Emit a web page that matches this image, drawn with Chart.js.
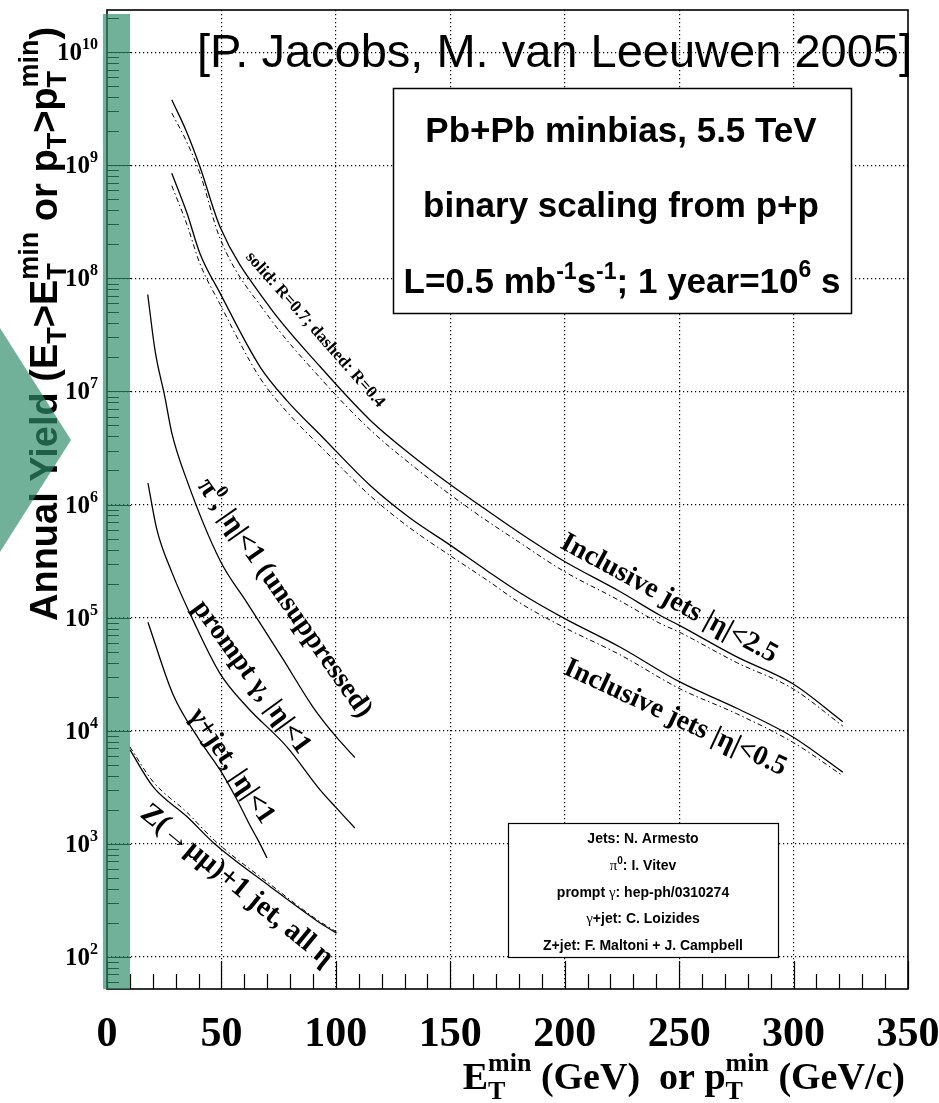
<!DOCTYPE html>
<html>
<head>
<meta charset="utf-8">
<script src="https://cdn.jsdelivr.net/npm/chart.js@4.4.0/dist/chart.umd.min.js"></script>
<style>
  html, body { margin: 0; padding: 0; background: #fff; }
  #wrap { position: relative; width: 939px; height: 1103px; }
</style>
</head>
<body>
<div id="wrap"><canvas id="yieldChart" width="939" height="1103"></canvas></div>
<script>
// annual yields, Pb+Pb minbias 5.5 TeV
const jets25X   = [28.3, 34.9, 40.6, 49.4, 69.9, 93.1, 114.9, 132.4, 149.8, 163, 180.4, 199.2, 224.1, 241.6, 250.3, 275.2, 299.7, 321.5]
const jets25R07 = [3.8e9, 1.95e9, 9.7e8, 2.85e8, 6.0e7, 1.66e7, 5.6e6, 2.8e6, 1.51e6, 9.8e5, 5.6e5, 3.2e5, 1.7e5, 1.05e5, 8.5e4, 4.5e4, 2.6e4, 1.2e4]
const jets25R04 = [2.9e9, 1.6e9, 8.5e8, 2.25e8, 4.8e7, 1.32e7, 4.6e6, 2.3e6, 1.23e6, 7.9e5, 4.6e5, 2.6e5, 1.41e5, 8.9e4, 7.4e4, 4.0e4, 2.35e4, 1.1e4]

const jets05X   = [28.3, 34.9, 40.6, 49.4, 66.8, 78.6, 94.4, 114.9, 132.4, 149.8, 166, 180.4, 199.2, 224.1, 250.3, 275.2, 299.7, 321.5]
const jets05R07 = [8.5e8, 3.8e8, 1.66e8, 7.4e7, 1.66e7, 8.3e6, 3.9e6, 1.48e6, 7.6e5, 4.4e5, 2.6e5, 1.66e5, 1.0e5, 5.5e4, 2.7e4, 1.58e4, 8.8e3, 4.3e3]
const jets05R04 = [6.6e8, 3.0e8, 1.35e8, 5.9e7, 1.32e7, 6.6e6, 3.1e6, 1.2e6, 6.2e5, 3.55e5, 2.15e5, 1.35e5, 8.3e4, 4.7e4, 2.35e4, 1.41e4, 7.9e3, 4.0e3]

const pi0X = [17.8, 21.0, 25.3, 28.3, 34.8, 49.4, 61.2, 76.9, 90.0, 100, 108.3]
const pi0Y = [7.2e7, 2.3e7, 8.9e6, 4.3e6, 1.66e6, 3.2e5, 1.35e5, 4.3e4, 1.62e4, 8.9e3, 5.8e3]

const promptGammaX = [17.9, 21.8, 28.4, 37.6, 49.4, 61.2, 78.6, 93.1, 100, 108.3]
const promptGammaY = [1.55e6, 6.0e5, 2.5e5, 9.5e4, 3.2e4, 1.62e4, 7.2e3, 3.0e3, 2.1e3, 1.38e3]

const gammaJetX = [17.9, 28.8, 40, 49.4, 56.8, 62.5, 66.3, 69.9]
const gammaJetY = [9.1e4, 2.1e4, 8.5e3, 4.5e3, 2.45e3, 1.45e3, 1.05e3, 7.5e2]

const zJetX     = [10, 20.1, 34.9, 47, 71.2, 91.5, 100.3]
const zJetY     = [6.8e3, 3.2e3, 1.74e3, 1.0e3, 4.2e2, 2.1e2, 1.62e2]
const zJetDashY = [7.2e3, 3.55e3, 1.9e3, 1.07e3, 4.4e2, 2.15e2, 1.66e2]

// axes
const xTickLabels = [0, 50, 100, 150, 200, 250, 300, 350]
const xGridValues = [50, 100, 150, 200, 250, 300]
const yDecades = [2, 3, 4, 5, 6, 7, 8, 9, 10]
const X_MIN = 0, X_MAX = 350
const Y_MIN = 52, Y_MAX = 2.36e10


const SANS = '"Liberation Sans", Arial, sans-serif'
const SERIF = '"Liberation Serif", "Times New Roman", serif'

function pts(xs, ys) {
  return xs.map((x, i) => ({x: x, y: ys[i]}))
}

function solid(xs, ys) {
  return {data: pts(xs, ys), borderColor: '#000', borderWidth: 1.3, pointRadius: 0,
    showLine: true, cubicInterpolationMode: 'monotone'}
}
function dashed(xs, ys) {
  return {data: pts(xs, ys), borderColor: '#000', borderWidth: 1, borderDash: [5, 3, 1.5, 3],
    pointRadius: 0, showLine: true, cubicInterpolationMode: 'monotone'}
}

// rich text: segments {t, font, dy} or stacked {lo, hi, font, dyLo, dyHi}
function segWidth(ctx, s) {
  ctx.font = s.font
  if (s.lo !== undefined) {
    return Math.max(ctx.measureText(s.lo).width, ctx.measureText(s.hi).width)
  }
  return ctx.measureText(s.t).width
}
function drawRich(ctx, segs, x, y, align) {
  let w = 0
  segs.forEach(s => { w += segWidth(ctx, s) })
  let cx = align === 'right' ? x - w : (align === 'center' ? x - w / 2 : x)
  ctx.textAlign = 'left'
  ctx.textBaseline = 'alphabetic'
  segs.forEach(s => {
    const sw = segWidth(ctx, s)
    ctx.font = s.font
    if (s.lo !== undefined) {
      ctx.fillText(s.lo, cx, y + s.dyLo)
      ctx.fillText(s.hi, cx, y + s.dyHi)
    } else {
      ctx.fillText(s.t, cx, y + (s.dy || 0))
    }
    cx += sw
  })
  return w
}

function lbl(size) { return 'bold ' + size + 'px ' + SERIF }

const curveLabels = [
  {cx: 316, cy: 329, angle: 48.5, size: 17, segs: s => [{t: 'solid: R=0.7; dashed: R=0.4', font: lbl(s)}]},
  {cx: 670, cy: 597, angle: 28.5, size: 28, segs: s => [{t: 'Inclusive jets |η|<2.5', font: lbl(s)}]},
  {cx: 676, cy: 716, angle: 25, size: 28, segs: s => [{t: 'Inclusive jets |η|<0.5', font: lbl(s)}]},
  {cx: 286, cy: 597, angle: 55, size: 28, segs: s => [
    {t: 'π', font: lbl(s)}, {t: '0', font: lbl(Math.round(s * 0.65)), dy: -s * 0.42},
    {t: ', |η|<1 (unsuppressed)', font: lbl(s)}]},
  {cx: 253, cy: 676, angle: 54, size: 28, segs: s => [{t: 'prompt γ, |η|<1', font: lbl(s)}]},
  {cx: 233, cy: 765, angle: 56, size: 28, segs: s => [{t: 'γ+jet, |η|<1', font: lbl(s)}]},
  {cx: 238, cy: 884, angle: 39.2, size: 29, segs: s => [{t: 'Z(→μμ)+1 jet, all η', font: lbl(s)}]}
]

const rootStyle = {
  id: 'rootStyle',
  afterDraw(chart) {
    const ctx = chart.ctx
    const a = chart.chartArea
    const xs = chart.scales.x
    const ys = chart.scales.y
    ctx.save()
    ctx.fillStyle = '#000'
    ctx.strokeStyle = '#000'

    // frame
    ctx.lineWidth = 1.6
    ctx.strokeRect(a.left, a.top, a.right - a.left, a.bottom - a.top)

    // ticks inside the frame
    ctx.lineWidth = 1.2
    ctx.beginPath()
    for (let v = X_MIN; v <= X_MAX; v += 10) {
      const px = Math.round(xs.getPixelForValue(v)) + 0.5
      const len = v % 50 === 0 ? 28 : 15
      ctx.moveTo(px, a.bottom)
      ctx.lineTo(px, a.bottom - len)
    }
    for (let e = 1; e <= 10; e++) {
      for (let m = 1; m <= 9; m++) {
        const v = m * Math.pow(10, e)
        if (v < Y_MIN || v > Y_MAX) continue
        const py = Math.round(ys.getPixelForValue(v)) + 0.5
        ctx.moveTo(a.left, py)
        ctx.lineTo(a.left + (m === 1 ? 24 : 12), py)
      }
    }
    ctx.stroke()

    // tick labels
    xTickLabels.forEach(v => {
      drawRich(ctx, [{t: String(v), font: 'bold 42px ' + SERIF}], xs.getPixelForValue(v), 1046, 'center')
    })
    yDecades.forEach(e => {
      const py = ys.getPixelForValue(Math.pow(10, e))
      drawRich(ctx, [{t: '10', font: 'bold 25px ' + SERIF},
        {t: String(e), font: 'bold 16px ' + SERIF, dy: -11}], 98, py + 8, 'right')
    })

    // x title
    const xt = 'bold 38px ' + SERIF, xs2 = 'bold 26px ' + SERIF
    drawRich(ctx, [
      {t: 'E', font: xt}, {lo: 'T', hi: 'min', font: xs2, dyLo: 10, dyHi: -18},
      {t: ' (GeV)  or p', font: xt}, {lo: 'T', hi: 'min', font: xs2, dyLo: 10, dyHi: -18},
      {t: ' (GeV/c)', font: xt}], 905, 1089, 'right')

    // y title
    const yt = 'bold 38px ' + SANS, ysub = 'bold 27px ' + SANS
    ctx.save()
    ctx.translate(57, 621)
    ctx.rotate(-Math.PI / 2)
    drawRich(ctx, [
      {t: 'Annual Yield (E', font: yt}, {t: 'T', font: ysub, dy: 9},
      {t: '>E', font: yt}, {lo: 'T', hi: 'min', font: ysub, dyLo: 9, dyHi: -19},
      {t: ' or p', font: yt}, {t: 'T', font: ysub, dy: 9},
      {t: '>p', font: yt}, {lo: 'T', hi: 'min', font: ysub, dyLo: 9, dyHi: -19},
      {t: ')', font: yt}], 0, 0, 'left')
    ctx.restore()

    // reference
    drawRich(ctx, [{t: '[P. Jacobs, M. van Leeuwen 2005]', font: '47px ' + SANS}], 912, 67, 'right')

    // info box
    ctx.fillStyle = '#fff'
    ctx.fillRect(393, 88, 458, 225)
    ctx.lineWidth = 1.5
    ctx.strokeRect(393.5, 88.5, 458, 225)
    ctx.fillStyle = '#000'
    const bf = 'bold 35px ' + SANS, bs = 'bold 23px ' + SANS
    drawRich(ctx, [{t: 'Pb+Pb minbias, 5.5 TeV', font: bf}], 621, 142, 'center')
    drawRich(ctx, [{t: 'binary scaling from p+p', font: bf}], 621, 217, 'center')
    drawRich(ctx, [{t: 'L=0.5 mb', font: bf}, {t: '-1', font: bs, dy: -14}, {t: 's', font: bf},
      {t: '-1', font: bs, dy: -14}, {t: '; 1 year=10', font: bf}, {t: '6', font: bs, dy: -16},
      {t: ' s', font: bf}], 622, 293, 'center')

    // credits box
    ctx.fillStyle = '#fff'
    ctx.fillRect(508, 823, 270, 134)
    ctx.lineWidth = 1.2
    ctx.strokeRect(508.5, 823.5, 270, 134)
    ctx.fillStyle = '#000'
    const cf = 'bold 14px ' + SANS, cg = '15px ' + SERIF
    const cx = 643
    drawRich(ctx, [{t: 'Jets: N. Armesto', font: cf}], cx, 843, 'center')
    drawRich(ctx, [{t: 'π', font: cg}, {t: '0', font: 'bold 10px ' + SANS, dy: -6},
      {t: ': I. Vitev', font: cf}], cx, 870, 'center')
    drawRich(ctx, [{t: 'prompt ', font: cf}, {t: 'γ', font: cg},
      {t: ': hep-ph/0310274', font: cf}], cx, 897, 'center')
    drawRich(ctx, [{t: 'γ', font: cg}, {t: '+jet: C. Loizides', font: cf}], cx, 923, 'center')
    drawRich(ctx, [{t: 'Z+jet: F. Maltoni + J. Campbell', font: cf}], cx, 950, 'center')

    // curve labels
    curveLabels.forEach(l => {
      ctx.save()
      ctx.translate(l.cx, l.cy)
      ctx.rotate(l.angle * Math.PI / 180)
      drawRich(ctx, l.segs(l.size), 0, l.size * 0.33, 'center')
      ctx.restore()
    })

    // green slide decoration on top
    ctx.fillStyle = 'rgba(45, 140, 105, 0.68)'
    ctx.fillRect(103, 14, 27, 975)
    ctx.beginPath()
    ctx.moveTo(0, 328)
    ctx.lineTo(71, 440)
    ctx.lineTo(0, 552)
    ctx.closePath()
    ctx.fill()
    ctx.restore()
  }
}

new Chart(document.getElementById('yieldChart'), {
  type: 'scatter',
  data: {
    datasets: [
      solid(jets25X, jets25R07),
      dashed(jets25X, jets25R04),
      solid(jets05X, jets05R07),
      dashed(jets05X, jets05R04),
      solid(pi0X, pi0Y),
      solid(promptGammaX, promptGammaY),
      solid(gammaJetX, gammaJetY),
      dashed(zJetX, zJetDashY),
      solid(zJetX, zJetY)
    ]
  },
  options: {
    responsive: false,
    animation: false,
    devicePixelRatio: 1,
    layout: {padding: {left: 107, right: 31, top: 10, bottom: 114}},
    plugins: {legend: {display: false}, tooltip: {enabled: false}},
    scales: {
      x: {
        type: 'linear', min: X_MIN, max: X_MAX,
        afterBuildTicks: scale => { scale.ticks = xGridValues.map(v => ({value: v})) },
        ticks: {display: false},
        grid: {color: '#000', lineWidth: 1.2, drawTicks: false},
        border: {display: false, dash: [1.2, 2.8]}
      },
      y: {
        type: 'logarithmic', min: Y_MIN, max: Y_MAX,
        afterBuildTicks: scale => { scale.ticks = yDecades.map(e => ({value: Math.pow(10, e)})) },
        ticks: {display: false},
        grid: {color: '#000', lineWidth: 1.2, drawTicks: false},
        border: {display: false, dash: [1.2, 2.8]}
      }
    }
  },
  plugins: [rootStyle]
})
</script>
</body>
</html>
